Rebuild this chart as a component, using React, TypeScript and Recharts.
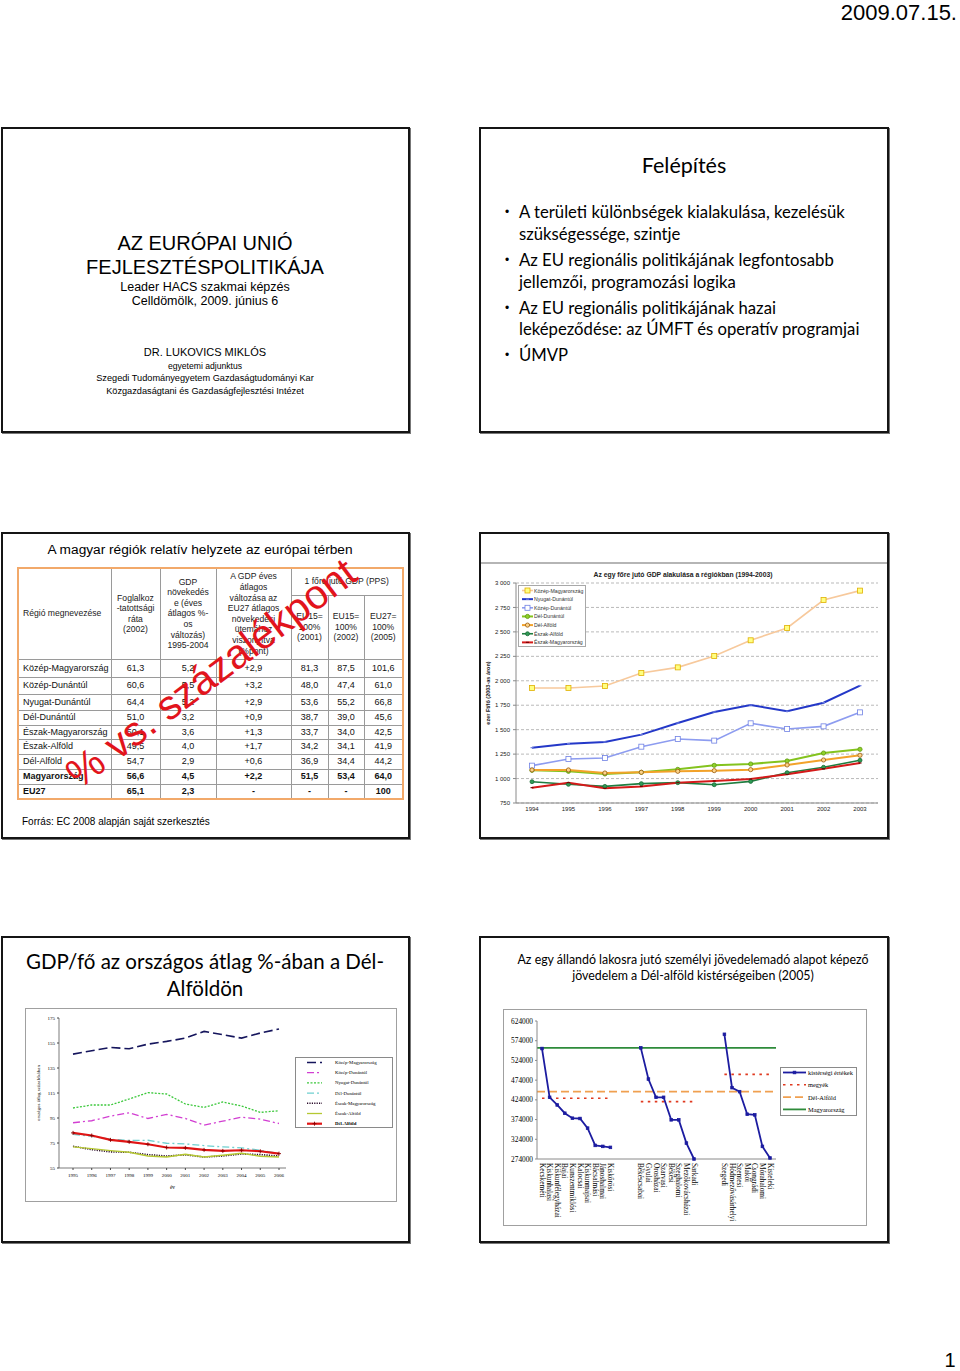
import React from 'react';
import { LineChart, Line, XAxis, YAxis, CartesianGrid, Legend, ReferenceLine } from 'recharts';

const SANS = '"Liberation Sans", Arial, sans-serif';
const SERIF = '"Liberation Serif", "Times New Roman", serif';
const CAL = 'Lato, "Open Sans", sans-serif';

// ---------- Az egy főre jutó GDP alakulása a régiókban (1994-2003) ----------
const gdpYears = ['1994', '1995', '1996', '1997', '1998', '1999', '2000', '2001', '2002', '2003'];
const gdpKozepMagyarorszag = [1926, 1926, 1947, 2080, 2137, 2253, 2414, 2540, 2826, 2922];
const gdpNyugatDunantul = [1316, 1357, 1374, 1449, 1568, 1681, 1752, 1688, 1776, 1950];
const gdpKozepDunantul = [1132, 1200, 1210, 1326, 1405, 1388, 1565, 1507, 1534, 1677];
const gdpDelDunantul = [1084, 1074, 1047, 1064, 1094, 1135, 1149, 1180, 1261, 1299];
const gdpDelAlfold = [1088, 1088, 1057, 1064, 1074, 1081, 1091, 1139, 1190, 1238];
const gdpEszakAlfold = [968, 941, 920, 948, 958, 937, 971, 1060, 1115, 1187];
const gdpEszakMagyarorszag = [907, 958, 900, 920, 958, 975, 995, 1043, 1101, 1159];
const gdpTicks = [750, 1000, 1250, 1500, 1750, 2000, 2250, 2500, 2750, 3000];

// ---------- GDP/fő az országos átlag %-ában ----------
const pctYears = ['1995', '1996', '1997', '1998', '1999', '2000', '2001', '2002', '2003', '2004', '2005', '2006'];
const pctKozepMagyarorszag = [146.1, 148.8, 151.4, 150.4, 154.1, 156.3, 158.9, 164.3, 161.6, 158.9, 163.0, 166.2];
const pctKozepDunantul = [91.2, 92.8, 96.5, 99.2, 94.6, 97.9, 94.6, 89.3, 92.5, 95.7, 94.1, 90.6];
const pctNyugatDunantul = [103.0, 105.4, 105.4, 110.2, 115.3, 114.2, 106.2, 103.5, 107.8, 104.6, 99.5, 100.8];
const pctDelDunantul = [82.0, 80.4, 78.0, 77.0, 77.2, 74.8, 74.3, 72.9, 71.9, 71.1, 69.2, 66.5];
const pctEszakMagyarorszag = [72.4, 69.7, 67.9, 67.6, 65.7, 64.6, 65.5, 63.8, 64.6, 66.2, 65.7, 64.6];
const pctEszakAlfold = [71.9, 70.5, 68.9, 67.6, 64.6, 63.8, 66.0, 63.8, 65.2, 66.8, 64.4, 63.8];
const pctDelAlfold = [83.1, 81.0, 77.5, 75.9, 74.0, 71.4, 71.1, 69.5, 68.7, 69.2, 68.4, 66.5];
const pctTicks = [55, 75, 95, 115, 135, 155, 175];

// ---------- Személyi jövedelemadó alapot képező jövedelem (2005) ----------
const bacsKiskunAreas = ['Kecskeméti', 'Kiskunhalasi', 'Kiskunfélegyházai', 'Bajai', 'Kunszentmiklósi', 'Kalocsai', 'Kiskunmajsai', 'Bácsalmási', 'Jánoshalmai', 'Kiskőrösi'];
const bacsKiskunValues = [554200, 430500, 411100, 390100, 377500, 376700, 352300, 308500, 306000, 303500];
const bekesAreas = ['Békéscsabai', 'Gyulai', 'Orosházai', 'Szarvasi', 'Békési', 'Szeghalomi', 'Mezőkovácsházai', 'Sarkadi'];
const bekesValues = [555900, 476800, 430500, 430500, 373300, 373300, 314400, 274000];
const csongradAreas = ['Szegedi', 'Hódmezővásárhelyi', 'Szentesi', 'Makói', 'Csongrádi', 'Mórahalomi', 'Kisteleki'];
const csongradValues = [590300, 454900, 444800, 387600, 385900, 306000, 276600];
const countyValues = [428000, 419600, 488600];
const delAlfoldIncome = 444800;
const magyarorszagIncome = 555900;
const incomeTicks = [274000, 324000, 374000, 424000, 474000, 524000, 574000, 624000];

// ---------- Táblázat ----------
const regionNames = ['Közép-Magyarország', 'Közép-Dunántúl', 'Nyugat-Dunántúl', 'Dél-Dunántúl', 'Észak-Magyarország', 'Észak-Alföld', 'Dél-Alföld', 'Magyarország', 'EU27'];
const employmentRate = ['61,3', '60,6', '64,4', '51,0', '50,1', '49,5', '54,7', '56,6', '65,1'];
const gdpGrowth = ['5,2', '5,5', '5,2', '3,2', '3,6', '4,0', '2,9', '4,5', '2,3'];
const gdpVsEu27 = ['+2,9', '+3,2', '+2,9', '+0,9', '+1,3', '+1,7', '+0,6', '+2,2', '-'];
const pps2001 = ['81,3', '48,0', '53,6', '38,7', '33,7', '34,2', '36,9', '51,5', '-'];
const pps2002 = ['87,5', '47,4', '55,2', '39,0', '34,0', '34,1', '34,4', '53,4', '-'];
const pps2005 = ['101,6', '61,0', '66,8', '45,6', '42,5', '41,9', '44,2', '64,0', '100'];
const boldRows = ['Magyarország', 'EU27'];

// ---------- derived tables ----------
const gdpRows = gdpYears.map((year, i) => ({
  year,
  kozepMagyarorszag: gdpKozepMagyarorszag[i],
  nyugatDunantul: gdpNyugatDunantul[i],
  kozepDunantul: gdpKozepDunantul[i],
  delDunantul: gdpDelDunantul[i],
  delAlfold: gdpDelAlfold[i],
  eszakAlfold: gdpEszakAlfold[i],
  eszakMagyarorszag: gdpEszakMagyarorszag[i],
}));

const pctRows = pctYears.map((year, i) => ({
  year,
  kozepMagyarorszag: pctKozepMagyarorszag[i],
  kozepDunantul: pctKozepDunantul[i],
  nyugatDunantul: pctNyugatDunantul[i],
  delDunantul: pctDelDunantul[i],
  eszakMagyarorszag: pctEszakMagyarorszag[i],
  eszakAlfold: pctEszakAlfold[i],
  delAlfold: pctDelAlfold[i],
}));

const incomeGroups = [
  { areas: bacsKiskunAreas, values: bacsKiskunValues, county: countyValues[0] },
  { areas: bekesAreas, values: bekesValues, county: countyValues[1] },
  { areas: csongradAreas, values: csongradValues, county: countyValues[2] },
];
const GAP_SLOTS = 3;
const incomeRows: any[] = [];
incomeGroups.forEach((g, gi) => {
  if (gi > 0) {
    for (let k = 0; k < GAP_SLOTS; k++) incomeRows.push({ key: `_gap${gi}_${k}`, value: null, county: null });
  }
  g.areas.forEach((a, i) => incomeRows.push({ key: a, value: g.values[i], county: g.county }));
});

// ---------- styles ----------
type SeriesStyle = {
  key: string; name: string; color: string; width: number; dash?: string;
  marker?: string; mSize?: number; mFill?: string; mStroke?: string; bold?: boolean;
};

const gdpSeries: SeriesStyle[] = [
  { key: 'kozepMagyarorszag', name: 'Közép-Magyarország', color: '#f7c99c', width: 1.6, marker: 'square', mSize: 5, mFill: '#ffff80', mStroke: '#e0b000' },
  { key: 'nyugatDunantul', name: 'Nyugat-Dunántúl', color: '#2438c8', width: 2, marker: 'dash', mSize: 3, mStroke: '#7080e0' },
  { key: 'kozepDunantul', name: 'Közép-Dunántúl', color: '#8d9cf0', width: 1.6, marker: 'square', mSize: 5, mFill: '#ffffff', mStroke: '#6f80e4' },
  { key: 'delDunantul', name: 'Dél-Dunántúl', color: '#84c31e', width: 2, marker: 'circle', mSize: 4.2, mFill: '#8fd02a', mStroke: '#5f9a10' },
  { key: 'delAlfold', name: 'Dél-Alföld', color: '#f2a22a', width: 2, marker: 'circle', mSize: 4.2, mFill: '#fbd38a', mStroke: '#9a5a10' },
  { key: 'eszakAlfold', name: 'Észak-Alföld', color: '#1f7d40', width: 1.6, marker: 'circle', mSize: 4, mFill: '#2f9a55', mStroke: '#1a6a36' },
  { key: 'eszakMagyarorszag', name: 'Észak-Magyarország', color: '#d41a1a', width: 2, marker: 'dash', mSize: 3, mStroke: '#7a0000' },
];

const pctSeries: SeriesStyle[] = [
  { key: 'kozepMagyarorszag', name: 'Közép-Magyarország', color: '#15155c', width: 1.6, dash: '9 4' },
  { key: 'kozepDunantul', name: 'Közép-Dunántúl', color: '#d23fd2', width: 1.3, dash: '7 3 2 3' },
  { key: 'nyugatDunantul', name: 'Nyugat-Dunántúl', color: '#3cc83c', width: 1.3, dash: '2 1.5' },
  { key: 'delDunantul', name: 'Dél-Dunántúl', color: '#6fd0d0', width: 1.3, dash: '7 3 2 3' },
  { key: 'eszakMagyarorszag', name: 'Észak-Magyarország', color: '#2a0a2a', width: 1.6, dash: '1.2 1.2' },
  { key: 'eszakAlfold', name: 'Észak-Alföld', color: '#b5c832', width: 1.3 },
  { key: 'delAlfold', name: 'Dél-Alföld', color: '#e01515', width: 2.2, marker: 'plus', mSize: 4, mStroke: '#8a0000', bold: true },
];

const incomeSeries: SeriesStyle[] = [
  { key: 'value', name: 'kistérségi értékek', color: '#1c1ca0', width: 1.8, marker: 'square', mSize: 2.6, mFill: '#1c1ca0', mStroke: '#1c1ca0' },
  { key: 'county', name: 'megyék', color: '#e0391f', width: 1.6, dash: '2.5 4.5' },
  { key: 'delAlfoldRef', name: 'Dél-Alföld', color: '#f0a050', width: 1.8, dash: '8 4' },
  { key: 'magyarorszagRef', name: 'Magyarország', color: '#2e8b3a', width: 1.8 },
];

function fmtThousands(v: number) {
  return String(v).replace(/\B(?=(\d{3})+(?!\d))/g, '\u00a0');
}

function drawMarker(s: SeriesStyle, cx: number, cy: number) {
  const size = s.mSize ?? 0;
  const fill = s.mFill ?? s.color;
  const stroke = s.mStroke ?? s.color;
  switch (s.marker) {
    case 'square':
      return <rect x={cx - size / 2} y={cy - size / 2} width={size} height={size} fill={fill} stroke={stroke} strokeWidth={0.8} />;
    case 'circle':
      return <circle cx={cx} cy={cy} r={size / 2} fill={fill} stroke={stroke} strokeWidth={0.8} />;
    case 'plus':
      return (
        <g stroke={stroke} strokeWidth={0.9}>
          <line x1={cx - size / 2} y1={cy} x2={cx + size / 2} y2={cy} />
          <line x1={cx} y1={cy - size / 2} x2={cx} y2={cy + size / 2} />
        </g>
      );
    case 'dash':
      return <line x1={cx - size / 2} y1={cy} x2={cx + size / 2} y2={cy} stroke={stroke} strokeWidth={1.2} />;
    default:
      return null;
  }
}

function dotRenderer(s: SeriesStyle): any {
  if (!s.marker) return false;
  return (p: any) => {
    const k = `dot-${s.key}-${p.index}`;
    if (p.value == null || !Number.isFinite(p.cx) || !Number.isFinite(p.cy)) return <g key={k} />;
    return <g key={k}>{drawMarker(s, p.cx, p.cy)}</g>;
  };
}

type LegendCfg = {
  items: SeriesStyle[]; width: number; height: number; rowH: number; firstY: number;
  x0: number; x1: number; textX: number; fontSize: number; fontFamily: string; border: string; textColor?: string;
};

function LegendSvg(c: LegendCfg) {
  return (
    <svg width={c.width} height={c.height} style={{ display: 'block' }}>
      <rect x={0.5} y={0.5} width={c.width - 1} height={c.height - 1} fill="#fff" stroke={c.border} strokeWidth={1} />
      {c.items.map((s, i) => {
        const cy = c.firstY + i * c.rowH;
        return (
          <g key={s.key}>
            <line x1={c.x0} y1={cy} x2={c.x1} y2={cy} stroke={s.color} strokeWidth={s.width} strokeDasharray={s.dash} />
            {drawMarker(s, (c.x0 + c.x1) / 2, cy)}
            <text x={c.textX} y={cy} dominantBaseline="central" fontSize={c.fontSize} fontFamily={c.fontFamily}
              fontWeight={s.bold ? 700 : 400} fill={c.textColor ?? '#000'}>{s.name}</text>
          </g>
        );
      })}
    </svg>
  );
}

function T({ x, y, size, children, align = 'center', w = 420, weight = 400, family = SANS, color = '#000', spacing = 0 }: any) {
  const left = align === 'center' ? x - w / 2 : align === 'right' ? x - w : x;
  const lh = size * 1.2;
  return (
    <div style={{
      position: 'absolute', left, top: y - lh / 2, width: w, height: lh, lineHeight: `${lh}px`,
      fontSize: size, textAlign: align, fontWeight: weight, fontFamily: family, color,
      whiteSpace: 'nowrap', letterSpacing: spacing,
    }}>{children}</div>
  );
}

function Slide({ left, top, width, height }: any) {
  return (
    <div style={{
      position: 'absolute', left, top, width, height, boxSizing: 'border-box',
      border: '2px solid #151515', background: '#fff', boxShadow: '1px 1px 0 #777',
    }} />
  );
}

// ---------- charts ----------
function GdpRegionsChart() {
  return (
    <div style={{ position: 'absolute', left: 483, top: 563 }}>
      <LineChart width={402} height={257} data={gdpRows} margin={{ top: 20, right: 7, bottom: 5, left: 0 }}
        style={{ fontFamily: SANS }}>
        <CartesianGrid vertical={false} stroke="#9c9c9c" strokeDasharray="3 2" strokeWidth={0.7} />
        <XAxis dataKey="year" padding={{ left: 16, right: 18 }} height={12} interval={0}
          tick={{ fontSize: 6, fill: '#222', fontFamily: SANS }} tickLine={false} tickSize={2} tickMargin={2}
          axisLine={{ stroke: '#8a8a8a' }} />
        <YAxis domain={[750, 3000]} ticks={gdpTicks} width={33} interval={0}
          tick={{ fontSize: 6, fill: '#222', fontFamily: SANS }} tickFormatter={fmtThousands}
          tickSize={3} tickMargin={3} tickLine={{ stroke: '#8a8a8a' }} axisLine={{ stroke: '#8a8a8a' }}
          label={{
            content: (p: any) => {
              const vb = p.viewBox;
              return (
                <text transform={`translate(${vb.x + 5}, ${vb.y + vb.height / 2}) rotate(-90)`} textAnchor="middle"
                  dominantBaseline="central" fontSize={5.5} fontWeight={700} fontFamily={SANS} fill="#222">
                  ezer Ft/fő (2003-as áron)
                </text>
              );
            },
          }} />
        <YAxis yAxisId="frame" orientation="right" domain={[750, 3000]} width={0} tick={false} tickLine={false}
          axisLine={{ stroke: '#8a8a8a' }} />
        <Legend layout="vertical" align="center" verticalAlign="middle"
          wrapperStyle={{ left: 35, top: 22, width: 68, height: 62 }}
          content={() => (
            <LegendSvg items={gdpSeries} width={68} height={62} rowH={8.65} firstY={5.5} x0={4} x1={15} textX={16}
              fontSize={5.2} fontFamily={SANS} border="#a8a8a8" textColor="#333" />
          )} />
        {gdpSeries.map((s) => (
          <Line key={s.key} type="linear" dataKey={s.key} name={s.name} stroke={s.color} strokeWidth={s.width}
            dot={dotRenderer(s)} activeDot={false} isAnimationActive={false} />
        ))}
      </LineChart>
    </div>
  );
}

function PctChart() {
  return (
    <div style={{ position: 'absolute', left: 25, top: 1008, border: 'none' }}>
      <LineChart width={372} height={194} data={pctRows} margin={{ top: 10, right: 111, bottom: 8, left: 8 }}>
        <XAxis dataKey="year" padding={{ left: 14, right: 7 }} height={26} interval={0}
          tick={{ fontSize: 5, fill: '#000', fontFamily: SERIF }} tickSize={2} tickMargin={3}
          tickLine={{ stroke: '#444' }} axisLine={{ stroke: '#444', strokeWidth: 0.7 }}
          label={{
            content: (p: any) => {
              const vb = p.viewBox;
              return (
                <text x={vb.x + vb.width / 2} y={vb.y + 19} textAnchor="middle" dominantBaseline="central"
                  fontSize={5.5} fontFamily={SERIF} fill="#000">év</text>
              );
            },
          }} />
        <YAxis domain={[55, 175]} ticks={pctTicks} width={26} interval={0}
          tick={{ fontSize: 5, fill: '#000', fontFamily: SERIF }} tickSize={2} tickMargin={2}
          tickLine={{ stroke: '#444' }} axisLine={{ stroke: '#444', strokeWidth: 0.7 }}
          label={{
            content: (p: any) => {
              const vb = p.viewBox;
              return (
                <text transform={`translate(${vb.x + 5}, ${vb.y + vb.height / 2}) rotate(-90)`} textAnchor="middle"
                  dominantBaseline="central" fontSize={5} fontFamily={SERIF} fill="#000">
                  országos átlag százalékában
                </text>
              );
            },
          }} />
        <Legend layout="vertical" align="center" verticalAlign="middle"
          wrapperStyle={{ left: 270, top: 49, width: 98, height: 71 }}
          content={() => (
            <LegendSvg items={pctSeries} width={98} height={71} rowH={10.2} firstY={5.5} x0={12} x1={27} textX={40}
              fontSize={4.8} fontFamily={SERIF} border="#8a8a8a" />
          )} />
        {pctSeries.map((s) => (
          <Line key={s.key} type="linear" dataKey={s.key} name={s.name} stroke={s.color} strokeWidth={s.width}
            strokeDasharray={s.dash} dot={dotRenderer(s)} activeDot={false} isAnimationActive={false} />
        ))}
      </LineChart>
    </div>
  );
}

function IncomeTick(props: any) {
  const { x, y, payload } = props;
  const v = String(payload?.value ?? '');
  if (v.startsWith('_')) return <g />;
  return (
    <text transform={`translate(${x}, ${y + 2}) rotate(90)`} textAnchor="start" dominantBaseline="central"
      fontSize={7.3} fontFamily={SERIF} fill="#000">{v}</text>
  );
}

function IncomeChart() {
  const kist = incomeSeries[0];
  const megye = incomeSeries[1];
  const da = incomeSeries[2];
  const hu = incomeSeries[3];
  return (
    <div style={{ position: 'absolute', left: 503, top: 1009 }}>
      <LineChart width={364} height={217} data={incomeRows} margin={{ top: 12, right: 91, bottom: 5, left: 4 }}>
        <XAxis dataKey="key" padding={{ left: 5, right: 6 }} height={62} interval={0}
          tick={(p: any) => <IncomeTick {...p} />} tickLine={false} tickSize={1} tickMargin={1}
          axisLine={{ stroke: '#8a8a8a' }} />
        <YAxis domain={[274000, 624000]} ticks={incomeTicks} width={30} interval={0}
          tick={{ fontSize: 7.3, fill: '#000', fontFamily: SERIF }} tickSize={2} tickMargin={2}
          tickLine={{ stroke: '#8a8a8a' }} axisLine={{ stroke: '#8a8a8a' }} />
        <ReferenceLine y={magyarorszagIncome} stroke={hu.color} strokeWidth={hu.width} />
        <ReferenceLine y={delAlfoldIncome} stroke={da.color} strokeWidth={da.width} strokeDasharray={da.dash} />
        <Line type="linear" dataKey={megye.key} name={megye.name} stroke={megye.color} strokeWidth={megye.width}
          strokeDasharray={megye.dash} dot={false} activeDot={false} isAnimationActive={false} />
        <Line type="linear" dataKey={kist.key} name={kist.name} stroke={kist.color} strokeWidth={kist.width}
          dot={dotRenderer(kist)} activeDot={false} isAnimationActive={false} />
        <Legend layout="vertical" align="center" verticalAlign="middle"
          wrapperStyle={{ left: 277, top: 58, width: 77, height: 49 }}
          content={() => (
            <LegendSvg items={incomeSeries} width={77} height={49} rowH={12.3} firstY={5.5} x0={3} x1={26} textX={28}
              fontSize={6.4} fontFamily={SERIF} border="#8a8a8a" />
          )} />
      </LineChart>
    </div>
  );
}

// ---------- table ----------
const tableColW = [93, 49, 56, 75, 37, 36, 39];
const tableRowH = [18, 17, 16, 15, 14, 15, 15, 15, 15];

function RegionTable() {
  const cell: React.CSSProperties = {
    border: '1px solid #9a9a9a', padding: 0, fontSize: 9, textAlign: 'center', verticalAlign: 'middle',
    fontFamily: SANS, color: '#111', lineHeight: '10.6px',
  };
  const head: React.CSSProperties = { ...cell, fontSize: 8.6, color: '#222' };
  return (
    <table style={{
      position: 'absolute', left: 17, top: 567, width: 385, borderCollapse: 'collapse', tableLayout: 'fixed',
      border: '2px solid #f2a96a',
    }}>
      <colgroup>
        {tableColW.map((w, i) => <col key={i} style={{ width: w }} />)}
      </colgroup>
      <tbody>
        <tr style={{ height: 27 }}>
          <td rowSpan={2} style={{ ...head, textAlign: 'left', paddingLeft: 4 }}>Régió megnevezése</td>
          <td rowSpan={2} style={head}>Foglalkoz<br />-tatottsági<br />ráta<br />(2002)</td>
          <td rowSpan={2} style={head}>GDP<br />növekedés<br />e (éves<br />átlagos %-<br />os<br />változás)<br />1995-2004</td>
          <td rowSpan={2} style={head}>A GDP éves<br />átlagos<br />változása az<br />EU27 átlagos<br />növekedési<br />ütemához<br />viszonyítva<br />(%pont)</td>
          <td colSpan={3} style={head}>1 főre jutó GDP (PPS)</td>
        </tr>
        <tr style={{ height: 64 }}>
          <td style={head}>EU15=<br />100%<br />(2001)</td>
          <td style={head}>EU15=<br />100%<br />(2002)</td>
          <td style={head}>EU27=<br />100%<br />(2005)</td>
        </tr>
        {regionNames.map((r, i) => {
          const b = boldRows.includes(r) ? 700 : 400;
          const c = { ...cell, fontWeight: b };
          return (
            <tr key={r} style={{ height: tableRowH[i] }}>
              <td style={{ ...c, textAlign: 'left', paddingLeft: 4, whiteSpace: 'nowrap' }}>{r}</td>
              <td style={c}>{employmentRate[i]}</td>
              <td style={c}>{gdpGrowth[i]}</td>
              <td style={c}>{gdpVsEu27[i]}</td>
              <td style={c}>{pps2001[i]}</td>
              <td style={c}>{pps2002[i]}</td>
              <td style={c}>{pps2005[i]}</td>
            </tr>
          );
        })}
      </tbody>
    </table>
  );
}

export default function App() {
  return (
    <div style={{
      position: 'absolute', left: 0, top: 0, width: 960, height: 1371, background: '#fff',
      fontFamily: SANS, color: '#000', overflow: 'hidden',
    }}>
      <T x={957} y={13} size={22} align="right">2009.07.15.</T>

      {/* Slide 1 */}
      <Slide left={1} top={127} width={409} height={306} />
      <T x={205} y={243} size={20}>AZ EURÓPAI UNIÓ</T>
      <T x={205} y={267} size={20}>FEJLESZTÉSPOLITIKÁJA</T>
      <T x={205} y={287} size={12.5}>Leader HACS szakmai képzés</T>
      <T x={205} y={301} size={12.5}>Celldömölk, 2009. június 6</T>
      <T x={205} y={353} size={11}>DR. LUKOVICS MIKLÓS</T>
      <T x={205} y={366} size={8.6}>egyetemi adjunktus</T>
      <T x={205} y={379} size={9.2}>Szegedi Tudományegyetem Gazdaságtudományi Kar</T>
      <T x={205} y={392} size={9.2}>Közgazdaságtani és Gazdaságfejlesztési Intézet</T>

      {/* Slide 2 */}
      <Slide left={479} top={127} width={410} height={306} />
      <T x={684} y={166} size={21.5} family={CAL}>Felépítés</T>
      {[212, 260, 308, 355].map((y) => <T key={y} x={505} y={y} size={12} family={SANS} align="left" w={20}>•</T>)}
      <T x={519} y={212} size={16.7} family={CAL} align="left">A területi különbségek kialakulása, kezelésük</T>
      <T x={519} y={234} size={16.7} family={CAL} align="left">szükségessége, szintje</T>
      <T x={519} y={260} size={16.7} family={CAL} align="left">Az EU regionális politikájának legfontosabb</T>
      <T x={519} y={282} size={16.7} family={CAL} align="left">jellemzői, programozási logika</T>
      <T x={519} y={308} size={16.7} family={CAL} align="left">Az EU regionális politikájának hazai</T>
      <T x={519} y={329} size={16.7} family={CAL} align="left">leképeződése: az ÚMFT és operatív programjai</T>
      <T x={519} y={355} size={16.7} family={CAL} align="left">ÚMVP</T>

      {/* Slide 3 */}
      <Slide left={1} top={532} width={409} height={307} />
      <T x={200} y={550} size={13.7}>A magyar régiók relatív helyzete az európai térben</T>
      <RegionTable />
      <div style={{
        position: 'absolute', left: 211 - 230, top: 673 - 25, width: 460, height: 50, lineHeight: '50px',
        textAlign: 'center', fontSize: 41, fontFamily: SANS, color: '#e2141c', transform: 'rotate(-37deg)',
        whiteSpace: 'nowrap',
      }}>% vs. százalékpont</div>
      <T x={22} y={822} size={10} align="left">Forrás: EC 2008 alapján saját szerkesztés</T>

      {/* Slide 4 */}
      <Slide left={479} top={532} width={410} height={307} />
      <div style={{ position: 'absolute', left: 481, top: 562, width: 406, height: 2, background: '#b5b5b5' }} />
      <T x={683} y={575} size={6.8} weight={700} color="#222">Az egy főre jutó GDP alakulása a régiókban (1994-2003)</T>
      <GdpRegionsChart />

      {/* Slide 5 */}
      <Slide left={1} top={936} width={409} height={307} />
      <T x={205} y={961} size={20.5} family={CAL}>GDP/fő az országos átlag %-ában a Dél-</T>
      <T x={205} y={988} size={20.5} family={CAL}>Alföldön</T>
      <div style={{ position: 'absolute', left: 25, top: 1008, width: 372, height: 194, boxSizing: 'border-box', border: '1px solid #a0a0a0' }} />
      <PctChart />

      {/* Slide 6 */}
      <Slide left={479} top={936} width={410} height={307} />
      <T x={693} y={960} size={12.4} family={CAL}>Az egy állandó lakosra jutó személyi jövedelemadó alapot képező</T>
      <T x={693} y={976} size={12.4} family={CAL}>jövedelem a Dél-alföld kistérségeiben (2005)</T>
      <div style={{ position: 'absolute', left: 503, top: 1009, width: 364, height: 217, boxSizing: 'border-box', border: '1px solid #a0a0a0' }} />
      <IncomeChart />

      <T x={950} y={1360} size={20}>1</T>
    </div>
  );
}
